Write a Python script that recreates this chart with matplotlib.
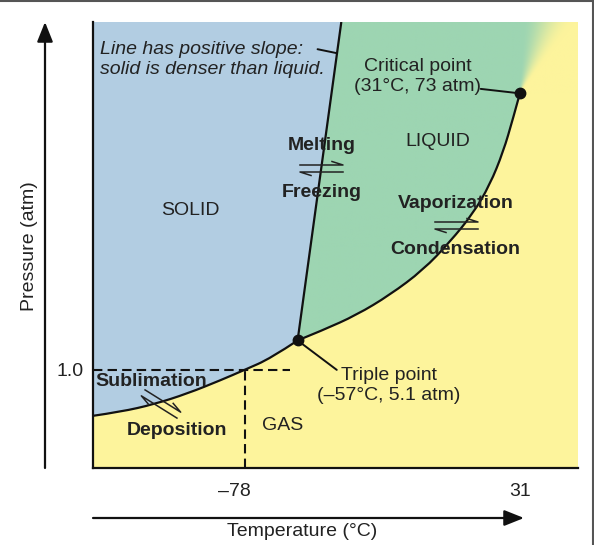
import numpy as np
import matplotlib
matplotlib.use("Agg")
import matplotlib.pyplot as plt
from matplotlib.patches import PathPatch, FancyArrowPatch
from matplotlib.path import Path
from matplotlib.lines import Line2D
from matplotlib.transforms import ScaledTranslation

plt.rcParams.update({
    "font.family": ["Liberation Sans", "DejaVu Sans"],
    "font.size": 14,
})

# Phase boundaries.
# x: temperature (degC), y: schematic pressure height (0-100, not to scale)
SUB_T = [-138.0, -127.0, -113.8, -100.6, -87.4, -78.0, -67.6, -57.0]
SUB_P = [11.7, 12.6, 14.3, 16.7, 19.7, 22.0, 24.6, 28.6]
VAP_T = [-57.0, -47.0, -33.7, -20.5, -7.3, 3.3, 12.5, 19.1, 24.4, 28.3, 31.0]
VAP_P = [28.6, 30.9, 34.3, 38.8, 44.4, 50.7, 57.1, 63.5, 70.9, 78.4, 84.0]
MELT_T = [-57.0, -39.7]
MELT_P = [28.6, 100.0]

TRIPLE = (-57.0, 28.6)
CRITICAL = (31.0, 84.0)
ONE_ATM = 22.0
X_TICKS = [-78, 31]
X_TICK_LABELS = ["\u201378", "31"]
Y_TICKS = [ONE_ATM]
Y_TICK_LABELS = ["1.0"]

XLIM = (-138.0, 54.0)
YLIM = (0.0, 100.0)

BLUE = "#b2cde2"
GREEN = "#9dd5b2"
YELLOW = "#fdf49c"
INK = "#111111"
TXT = "#222222"

W, H = 594, 545


def fxy(px, py):
    """reference pixel (top-left origin) -> figure fraction"""
    return px / W, 1 - py / H


def smooth(xs, ys):
    """quadratic bezier path using the read points as control points"""
    p = np.column_stack([xs, ys])
    verts, codes = [p[0]], [Path.MOVETO]
    for i in range(1, len(p) - 2):
        verts += [p[i], (p[i] + p[i + 1]) / 2]
        codes += [Path.CURVE3] * 2
    verts += [p[-2], p[-1]]
    codes += [Path.CURVE3] * 2
    return verts, codes


def harpoons(fig, cx, cy, length, angle, gap=7.0):
    a = np.radians(angle)
    u = np.array([np.cos(a), np.sin(a)])
    n = np.array([np.sin(a), -np.cos(a)])
    c = np.array([cx, cy])
    top = c + n * gap / 2
    s, e = top - u * length / 2, top + u * length / 2
    b = e - u * 11 + n * 3.5
    bot = c - n * gap / 2
    s2, e2 = bot - u * length / 2, bot + u * length / 2
    b2 = s2 + u * 11 - n * 3.5
    for pts in ([s, e, b], [e2, s2, b2]):
        xs, ys = zip(*[fxy(*p) for p in pts])
        fig.add_artist(Line2D(xs, ys, color=TXT, lw=1.1, transform=fig.transFigure))


def main():
    fig = plt.figure(figsize=(W / 100, H / 100), dpi=100)
    ax = fig.add_axes([93 / W, 1 - 468 / H, 485 / W, 446 / H])
    ax.set_xlim(*XLIM)
    ax.set_ylim(*YLIM)
    ax.set_facecolor(YELLOW)

    sub_v, sub_c = smooth(SUB_T, SUB_P)
    vap_v, vap_c = smooth(VAP_T, VAP_P)
    melt_v, melt_c = smooth(MELT_T, MELT_P)

    # solid region
    verts = [(XLIM[0], YLIM[1])] + sub_v + [(MELT_T[-1], MELT_P[-1]), (0, 0)]
    codes = [Path.MOVETO, Path.LINETO] + sub_c[1:] + [Path.LINETO, Path.CLOSEPOLY]
    ax.add_patch(PathPatch(Path(verts, codes), facecolor=BLUE, edgecolor="none", zorder=1))

    # liquid / supercritical region, fan gradient out of the critical point
    verts = [(MELT_T[-1], MELT_P[-1])] + vap_v
    verts += [(XLIM[1], CRITICAL[1]), (XLIM[1], YLIM[1]), (0, 0)]
    codes = [Path.MOVETO, Path.LINETO] + vap_c[1:] + [Path.LINETO, Path.LINETO, Path.CLOSEPOLY]
    clip = PathPatch(Path(verts, codes), facecolor="none", edgecolor="none")
    ax.add_patch(clip)

    sx = 485 / (XLIM[1] - XLIM[0])
    sy = 446 / (YLIM[1] - YLIM[0])
    GX, GY = np.meshgrid(np.linspace(*XLIM, 500), np.linspace(*YLIM, 450))
    ang = np.degrees(np.arctan2((GX - CRITICAL[0]) * sx, (GY - CRITICAL[1]) * sy))
    t = np.clip((ang - 2) / 36, 0, 1)
    t = t * t * (3 - 2 * t)
    g = np.array(matplotlib.colors.to_rgb(GREEN))
    yv = np.array(matplotlib.colors.to_rgb(YELLOW))
    img = g[None, None, :] * (1 - t[..., None]) + yv[None, None, :] * t[..., None]
    im = ax.imshow(img, extent=(*XLIM, *YLIM), origin="lower", aspect="auto",
                   interpolation="bilinear", zorder=1)
    im.set_clip_path(clip)

    # boundaries
    for v, c in ((sub_v, sub_c), (vap_v, vap_c), (melt_v, melt_c)):
        ax.add_patch(PathPatch(Path(v, c), facecolor="none", edgecolor=INK,
                               lw=1.6, zorder=3))

    # 1 atm reference lines
    dash = dict(color=INK, lw=1.5, linestyle=(0, (4.5, 2.5)), zorder=2)
    ax.plot([XLIM[0], -60.0], [ONE_ATM, ONE_ATM], **dash)
    ax.plot([X_TICKS[0], X_TICKS[0]], [YLIM[0], ONE_ATM], **dash)

    for pt in (TRIPLE, CRITICAL):
        ax.plot(*pt, "o", ms=7.5, color=INK, zorder=5, clip_on=False)

    # pointers
    line = dict(arrowstyle="-", color=INK, lw=1.4, shrinkA=0, shrinkB=0)
    ax.annotate("", xy=CRITICAL, xytext=(15.5, 85.0), arrowprops=line)
    ax.annotate("", xy=TRIPLE, xytext=(-41.5, 22.0), arrowprops=line)
    ax.annotate("", xy=(-41.4, 93.0), xytext=(-49.1, 93.9), arrowprops=line)

    # text
    ta = ax.transAxes
    ax.text(0.0144, 0.916, "Line has positive slope:\nsolid is denser than liquid.",
            transform=ta, ha="left", va="center", style="italic", color=TXT,
            linespacing=1.25)
    ax.text(0.670, 0.877, "Critical point\n(31\u00b0C, 73 atm)", transform=ta,
            ha="center", va="center", linespacing=1.25, color=TXT)
    ax.text(0.610, 0.185, "Triple point\n(\u201357\u00b0C, 5.1 atm)", transform=ta,
            ha="center", va="center", linespacing=1.25, color=TXT)
    ax.text(0.710, 0.733, "LIQUID", transform=ta, ha="center", va="center", color=TXT)
    ax.text(0.200, 0.578, "SOLID", transform=ta, ha="center", va="center", color=TXT)
    ax.text(0.392, 0.096, "GAS", transform=ta, ha="center", va="center", color=TXT)
    bold = dict(transform=ta, ha="center", va="center", fontweight="bold", color=TXT)
    ax.text(0.472, 0.724, "Melting", **bold)
    ax.text(0.472, 0.617, "Freezing", **bold)
    ax.text(0.748, 0.594, "Vaporization", **bold)
    ax.text(0.746, 0.489, "Condensation", **bold)
    ax.text(0.120, 0.195, "Sublimation", **bold)
    ax.text(0.173, 0.085, "Deposition", **bold)

    harpoons(fig, 321.5, 168.5, 43, 0)
    harpoons(fig, 456.5, 225.5, 43, 0)
    harpoons(fig, 161, 404, 42, 32)

    # axes styling
    for side in ("top", "right"):
        ax.spines[side].set_visible(False)
    for side in ("left", "bottom"):
        ax.spines[side].set_linewidth(1.6)
        ax.spines[side].set_color(INK)
    ax.set_xticks(X_TICKS, X_TICK_LABELS)
    ax.set_yticks(Y_TICKS, Y_TICK_LABELS)
    ax.tick_params(length=0, colors=TXT)
    ax.tick_params(axis="x", pad=11)
    ax.tick_params(axis="y", pad=7)
    lab = ax.get_xticklabels()[0]
    lab.set_transform(lab.get_transform() + ScaledTranslation(-0.10, 0, fig.dpi_scale_trans))

    # outer axis arrows
    arrow = dict(arrowstyle="-|>,head_length=0.8,head_width=0.32", mutation_scale=15,
                 color=INK, lw=1.6, shrinkA=0, shrinkB=0, transform=fig.transFigure)
    fig.add_artist(FancyArrowPatch(fxy(45, 468), fxy(45, 22), **arrow))
    fig.add_artist(FancyArrowPatch(fxy(93, 518), fxy(524, 518), **arrow))
    fig.text(*fxy(302, 531), "Temperature (\u00b0C)", ha="center", va="center", color=TXT)
    fig.text(*fxy(30, 246), "Pressure (atm)", ha="center", va="center", rotation=90,
             color=TXT)

    # grey frame (top and right edges)
    fig.add_artist(Line2D([0, 592.5 / W], [1 - 1.2 / H] * 2, color="#555555", lw=1.5,
                          transform=fig.transFigure))
    fig.add_artist(Line2D([592.5 / W] * 2, [0, 1 - 1.2 / H], color="#555555", lw=1.5,
                          transform=fig.transFigure))

    fig.savefig("out.png", dpi=100)
    plt.close(fig)


if __name__ == "__main__":
    main()
